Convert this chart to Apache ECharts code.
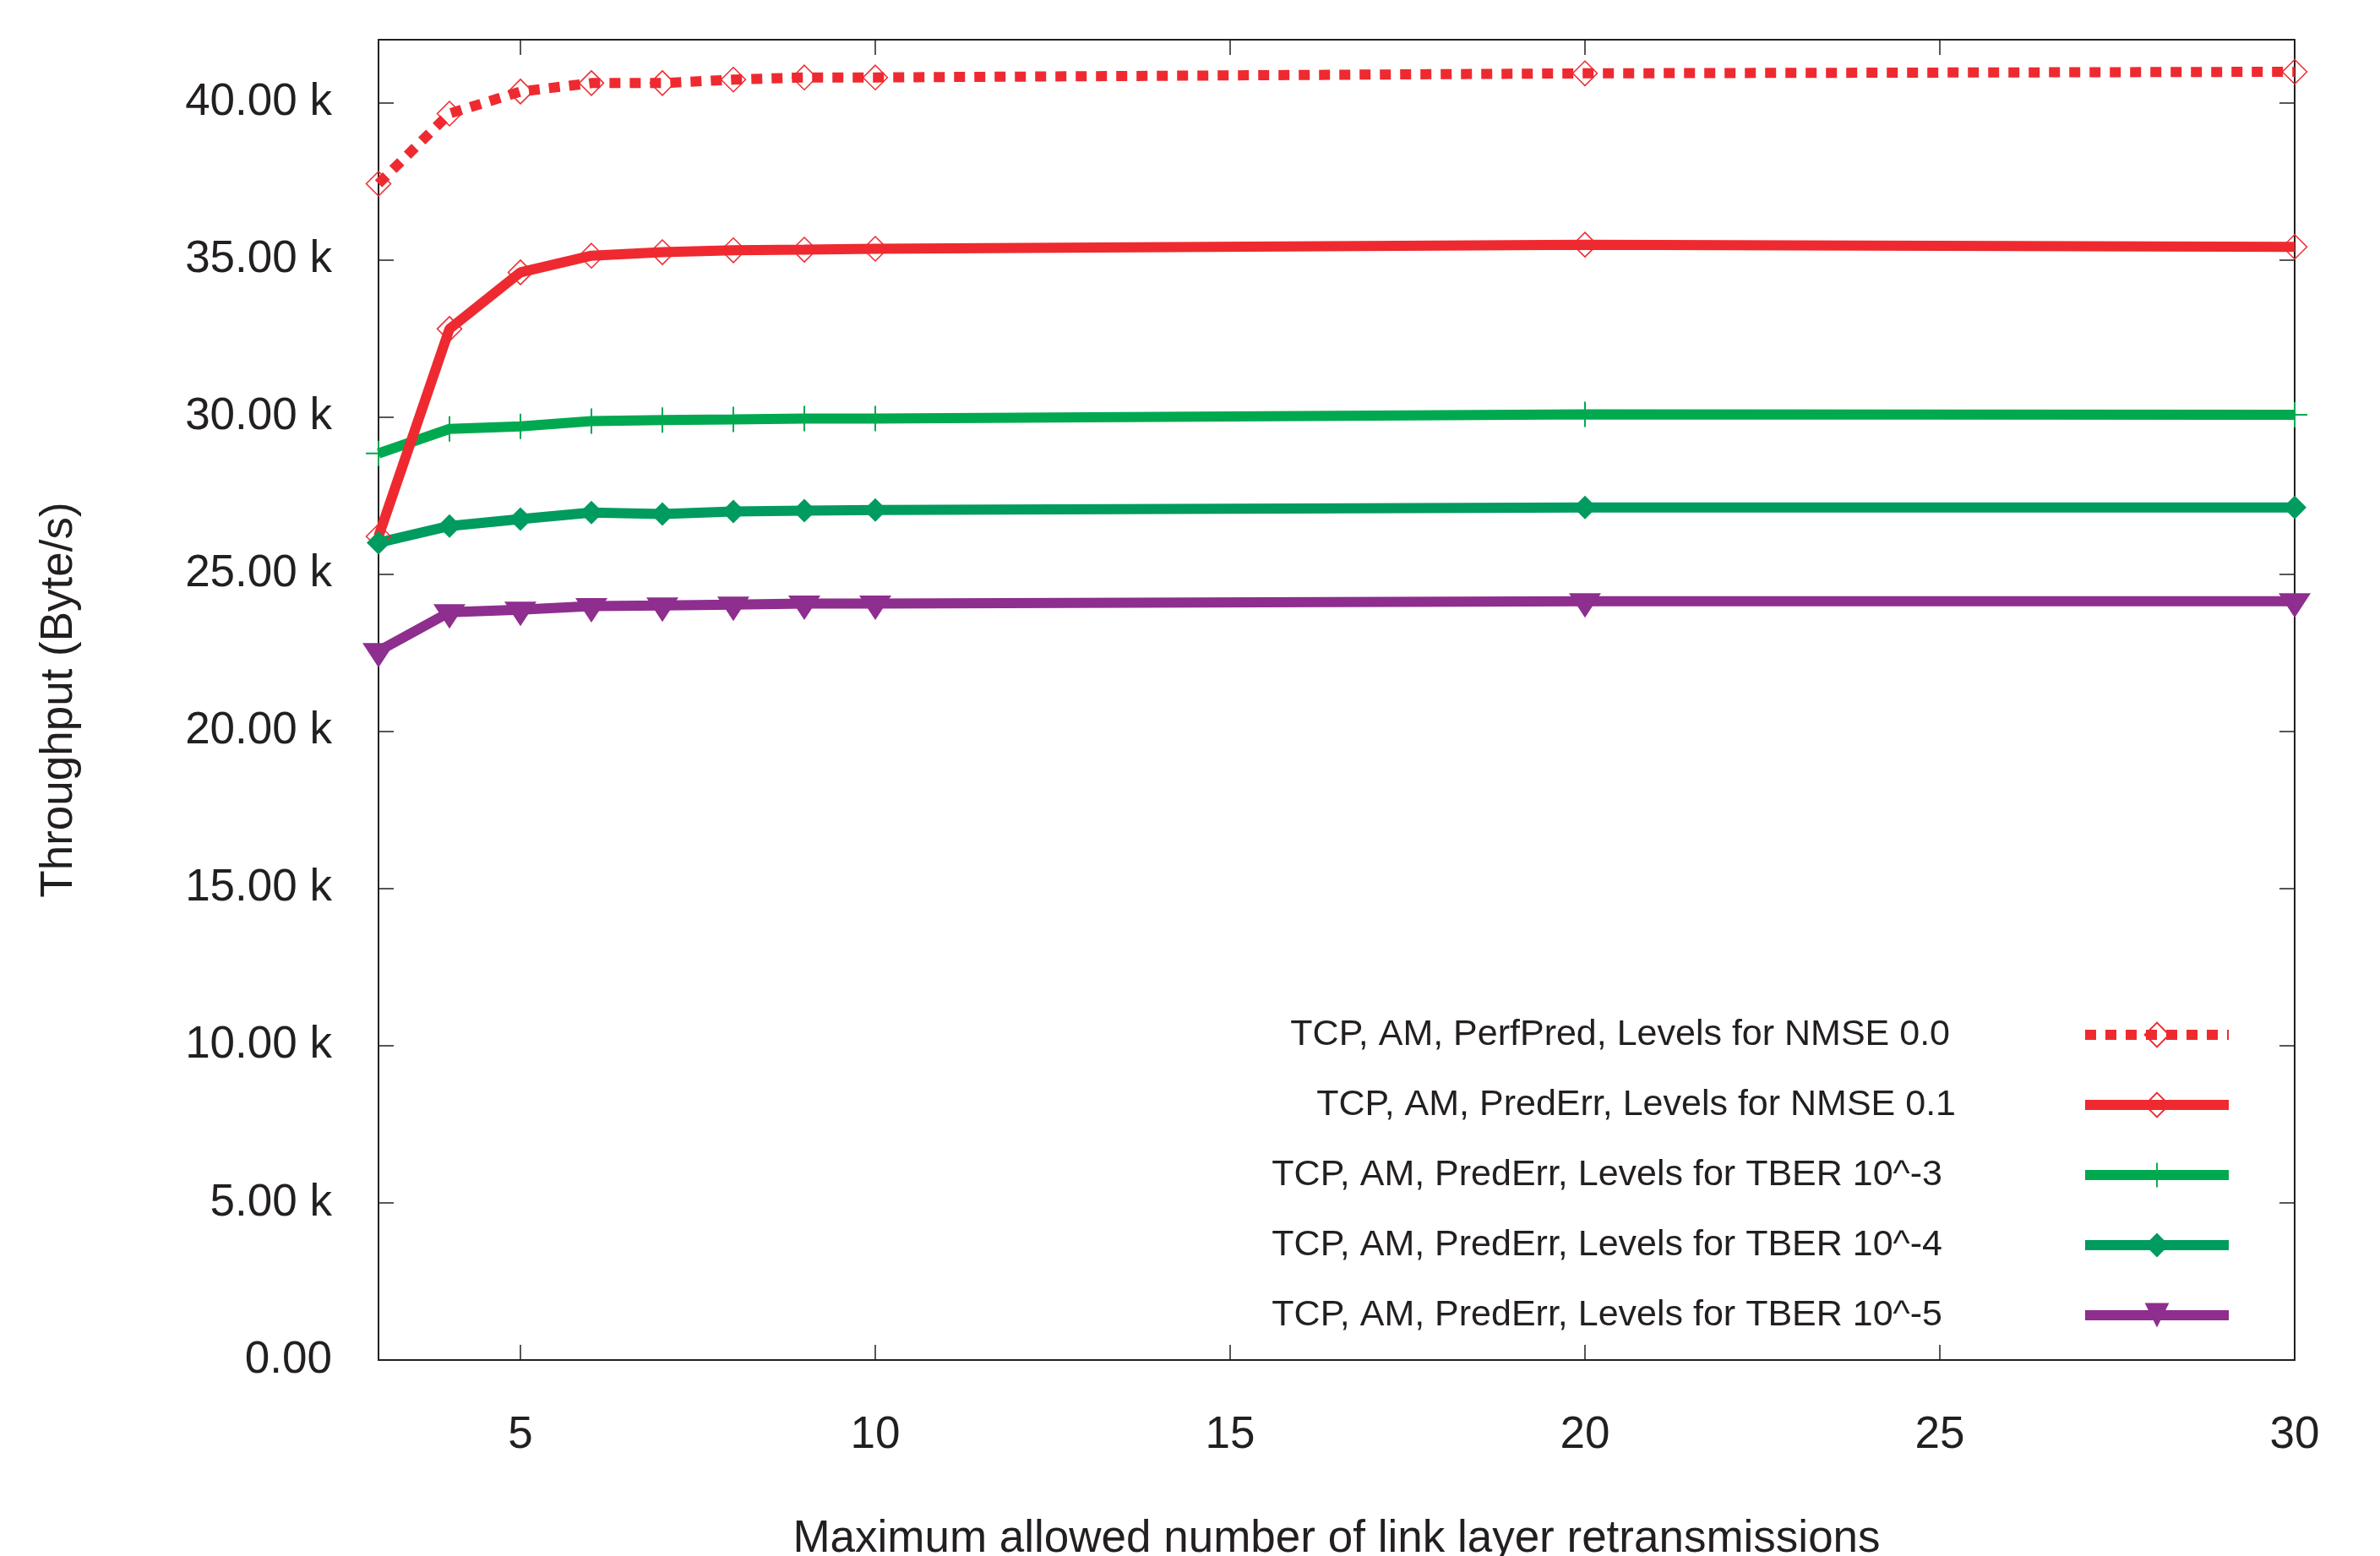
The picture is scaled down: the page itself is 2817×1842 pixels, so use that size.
<!DOCTYPE html>
<html>
<head>
<meta charset="utf-8">
<title>Throughput vs link layer retransmissions</title>
<script src="https://cdn.jsdelivr.net/npm/echarts@6/dist/echarts.min.js"></script>
<style>
html, body { margin: 0; padding: 0; background: #fff; }
#chart { width: 2817px; height: 1842px; }
</style>
</head>
<body>
<div id="chart"></div>
<script>
// x: maximum allowed number of link layer retransmissions
const retx = [3, 4, 5, 6, 7, 8, 9, 10, 20, 30]

// throughput (Byte/s)
const perfPredNmse00 = [37420, 39650, 40350, 40620, 40620, 40730, 40800, 40800, 40930, 40980]
const predErrNmse01 = [26200, 32800, 34600, 35130, 35240, 35300, 35320, 35350, 35480, 35410]
const predErrTber3 = [28840, 29620, 29700, 29870, 29900, 29920, 29950, 29950, 30080, 30070]
const predErrTber4 = [26000, 26530, 26750, 26960, 26910, 26990, 27020, 27040, 27120, 27120]
const predErrTber5 = [22550, 23790, 23870, 23980, 24000, 24030, 24060, 24060, 24140, 24140]

const names = [
    'TCP, AM, PerfPred, Levels for NMSE 0.0',
    'TCP, AM, PredErr, Levels for NMSE 0.1',
    'TCP, AM, PredErr, Levels for TBER 10^-3',
    'TCP, AM, PredErr, Levels for TBER 10^-4',
    'TCP, AM, PredErr, Levels for TBER 10^-5'
]

const xTicks = [5, 10, 15, 20, 25, 30]
const yTicks = [0, 5000, 10000, 15000, 20000, 25000, 30000, 35000, 40000]

const RED = '#ee2a30'
const GREEN = '#00a94f'
const DARKGREEN = '#009b5f'
const PURPLE = '#8e2e8e'
const INK = '#231f20'
const FONT = '"Liberation Sans", Arial, sans-serif'
const PLUS = 'path://M14,0H16V14H30V16H16V30H14V16H0V14H14Z'

const pairs = ys => retx.map((x, i) => [x, ys[i]])

const chart = echarts.init(document.getElementById('chart'))

const frameLine = { show: true, onZero: false, lineStyle: { color: INK, width: 2 } }
const innerTick = (vals) => ({ show: true, inside: true, length: 18, customValues: vals, lineStyle: { color: INK, width: 1.5 } })

const fmtY = v => v === 0 ? '0.00' : (v / 1000).toFixed(2) + ' k'

// legend text right edges differ a bit per row
const legendPad = [155, 148, 164, 164, 164]

const option = {
    animation: false,
    backgroundColor: '#fff',
    textStyle: { fontFamily: FONT },
    grid: { left: 448, right: 101, top: 47, bottom: 232, outerBoundsMode: 'none', containLabel: false },
    legend: {
        orient: 'vertical',
        align: 'right',
        right: 173,
        top: 1203,
        padding: 0,
        itemWidth: 170,
        itemHeight: 36,
        itemGap: 39,
        lineStyle: { width: 12 },
        textStyle: { fontSize: 43, color: INK, fontFamily: FONT, lineHeight: 44 },
        data: names.map((n, i) => ({ name: n, textStyle: { padding: [0, legendPad[i], 0, 0] } }))
    },
    xAxis: [{
        type: 'value',
        position: 'bottom',
        min: 3,
        max: 30,
        name: 'Maximum allowed number of link layer retransmissions',
        nameLocation: 'middle',
        nameGap: 186,
        nameTextStyle: { fontSize: 53, color: INK, fontFamily: FONT },
        axisLine: frameLine,
        axisTick: innerTick(xTicks),
        axisLabel: { customValues: xTicks, margin: 63, fontSize: 53, color: INK, fontFamily: FONT },
        splitLine: { show: false }
    }, {
        type: 'value',
        position: 'top',
        min: 3,
        max: 30,
        axisLine: frameLine,
        axisTick: innerTick(xTicks),
        axisLabel: { show: false },
        splitLine: { show: false }
    }],
    yAxis: [{
        type: 'value',
        position: 'left',
        min: 0,
        max: 42000,
        name: 'Throughput (Byte/s)',
        nameLocation: 'middle',
        nameGap: 351,
        nameTextStyle: { fontSize: 53, color: INK, fontFamily: FONT },
        axisLine: frameLine,
        axisTick: innerTick(yTicks),
        axisLabel: { customValues: yTicks, margin: 55, fontSize: 53, color: INK, fontFamily: FONT, formatter: fmtY, padding: [9, 0, 0, 0] },
        splitLine: { show: false }
    }, {
        type: 'value',
        position: 'right',
        min: 0,
        max: 42000,
        axisLine: frameLine,
        axisTick: innerTick(yTicks),
        axisLabel: { show: false },
        splitLine: { show: false }
    }],
    series: [
        {
            name: names[2],
            type: 'line',
            clip: false,
            data: pairs(predErrTber3),
            symbol: PLUS,
            symbolSize: 30,
            lineStyle: { color: GREEN, width: 12 },
            itemStyle: { color: GREEN, borderWidth: 0 }
        },
        {
            name: names[0],
            type: 'line',
            clip: false,
            data: pairs(perfPredNmse00),
            symbol: 'diamond',
            symbolSize: 29,
            lineStyle: { color: RED, width: 12, type: [13, 11] },
            itemStyle: { color: 'none', borderColor: RED, borderWidth: 1.5 }
        },
        {
            name: names[1],
            type: 'line',
            clip: false,
            data: pairs(predErrNmse01),
            symbol: 'diamond',
            symbolSize: 29,
            lineStyle: { color: RED, width: 12 },
            itemStyle: { color: 'none', borderColor: RED, borderWidth: 1.5 }
        },
        {
            name: names[3],
            type: 'line',
            clip: false,
            data: pairs(predErrTber4),
            symbol: 'diamond',
            symbolSize: 28,
            lineStyle: { color: DARKGREEN, width: 12 },
            itemStyle: { color: DARKGREEN, borderWidth: 0 }
        },
        {
            name: names[4],
            type: 'line',
            clip: false,
            data: pairs(predErrTber5),
            symbol: 'triangle',
            symbolRotate: 180,
            symbolSize: [38, 29],
            symbolOffset: [0, 5],
            lineStyle: { color: PURPLE, width: 12 },
            itemStyle: { color: PURPLE, borderWidth: 0 }
        }
    ]
}

chart.setOption(option)
</script>
</body>
</html>
